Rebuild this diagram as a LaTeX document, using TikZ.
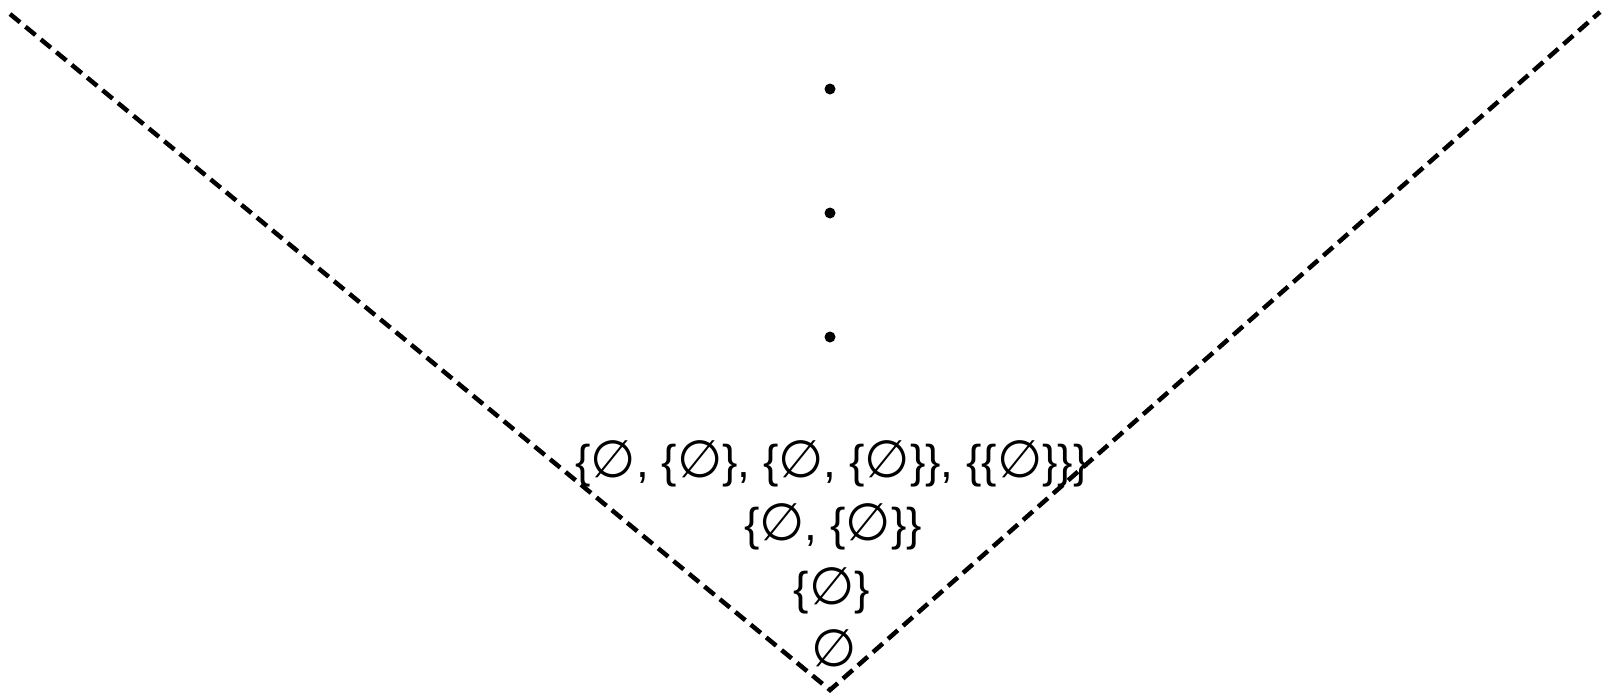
\documentclass[tikz,border=0pt]{standalone}
\usepackage{fontspec}
\setmainfont{Liberation Sans}
\newfontfamily\dvfont{DejaVu Sans}
\newcommand{\es}{{\dvfont\fontsize{52}{56}\selectfont ∅}}
\begin{document}
\begin{tikzpicture}[x=1pt,y=-1pt,
  boundary/.style={line width=4.5pt,dash pattern=on 13pt off 7pt},
  setlabel/.style={inner sep=0pt,font=\fontsize{46}{50}\selectfont},
  dotmark/.style={circle,fill=black,inner sep=0pt,minimum size=11pt}]
\useasboundingbox (0,0) rectangle (1609,697);
\coordinate (L) at (10,14);
\coordinate (A) at (830,690);
\coordinate (R) at (1600,12);
\draw[boundary] (L) -- (A) -- (R);
\node[dotmark] (d1) at (830,89) {};
\node[dotmark] (d2) at (830,213) {};
\node[dotmark] (d3) at (830,337) {};
\node[setlabel] (t3) at (832,464) {\{\es, \{\es\}, \{\es, \{\es\}\}, \{\{\es\}\}\}};
\node[setlabel] (t2) at (833,527) {\{\es, \{\es\}\}};
\node[setlabel] (t1) at (832,591) {\{\es\}};
\node[setlabel] (t0) at (834,648) {\es};
\end{tikzpicture}
\end{document}
